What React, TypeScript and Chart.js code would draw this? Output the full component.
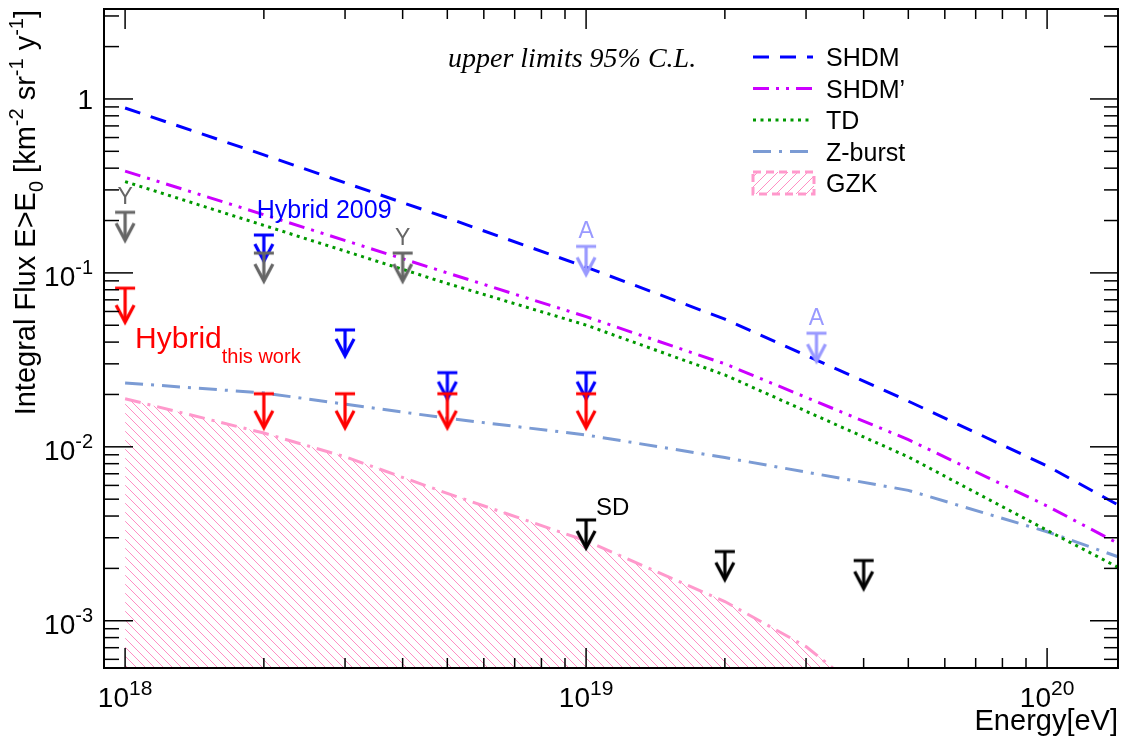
import React, { useEffect, useRef } from "react";
import { Chart, registerables } from "chart.js";

Chart.register(...registerables);

// ---------------- data ----------------
const modelEnergies = [1e18, 2e18, 5e18, 1e19, 2e19, 5e19, 1e20, 1.42e20];
const shdmFlux = [0.887, 0.477, 0.207, 0.108, 0.0542, 0.0183, 0.00776, 0.00466];
const shdmPrimeFlux = [0.385, 0.216, 0.1, 0.056, 0.03, 0.011, 0.00457, 0.0028];
const tdFlux = [0.335, 0.1875, 0.0869, 0.0501, 0.0259, 0.00875, 0.00331, 0.00204];
const zburstFlux = [0.0233, 0.0204, 0.0146, 0.0117, 0.00867, 0.00562, 0.00325, 0.00234];

const gzkEnergies = [1e18, 2e18, 3e18, 5e18, 1e19, 2e19, 3e19, 5e19];
const gzkFlux = [0.0189, 0.012, 0.00877, 0.0054, 0.00288, 0.00129, 0.00071, 0.00024];

// upper limits
const yakutskE = [1e18, 2e18, 4e18];
const yakutskLim = [0.223, 0.13, 0.13];
const yakutskLabels = ["Y", "", "Y"];
const hybrid2009E = [2e18, 3e18, 5e18, 1e19];
const hybrid2009Lim = [0.165, 0.047, 0.0267, 0.0267];
const hybridE = [1e18, 2e18, 3e18, 5e18, 1e19];
const hybridLim = [0.0817, 0.0202, 0.0202, 0.0202, 0.0202];
const agasaE = [1e19, 3.16e19];
const agasaLim = [0.142, 0.045];
const agasaLabels = ["A", "A"];
const sdE = [1e19, 2e19, 4e19];
const sdLim = [0.0038, 0.0025, 0.00222];
const sdLabels = ["SD", "", ""];

const legendLabels = ["SHDM", "SHDM\u2019", "TD", "Z-burst", "GZK"];
const xTickExponents = [18, 19, 20];
const yTickExponents = [-3, -2, -1, 0];

const X_MIN = 9e17;
const X_MAX = 1.425e20;
const Y_MIN = 5.35e-4;
const Y_MAX = 3.29;

const SANS = '"Liberation Sans", Arial, sans-serif';
const SERIF = '"Liberation Serif", "Times New Roman", serif';

const pts = (xs: number[], ys: number[]) => xs.map((x, i) => ({ x, y: ys[i] }));

function makeArrow(color: string, len: number) {
  const w = 24;
  const h = 2 * (len + 4);
  const c = document.createElement("canvas");
  c.width = w;
  c.height = h;
  const g = c.getContext("2d")!;
  const cx = w / 2;
  const cy = h / 2;
  g.strokeStyle = color;
  g.lineWidth = 3.2;
  g.beginPath();
  g.moveTo(cx - 10, cy);
  g.lineTo(cx + 10, cy);
  g.moveTo(cx, cy);
  g.lineTo(cx, cy + len - 1);
  g.stroke();
  g.beginPath();
  g.moveTo(cx - 9, cy + len - 17);
  g.lineTo(cx, cy + len);
  g.lineTo(cx + 9, cy + len - 17);
  g.stroke();
  return c;
}

function makeHatch(color: string, s: number, back: boolean) {
  const c = document.createElement("canvas");
  c.width = s;
  c.height = s;
  const g = c.getContext("2d")!;
  g.strokeStyle = color;
  g.lineWidth = 1;
  g.beginPath();
  for (const k of [-s, 0, s]) {
    if (back) {
      g.moveTo(k, 0);
      g.lineTo(k + s, s);
    } else {
      g.moveTo(k, s);
      g.lineTo(k + s, 0);
    }
  }
  g.stroke();
  return g.createPattern(c, "repeat")!;
}

const rootStylePlugin = {
  id: "rootStyle",
  afterDatasetsDraw(chart: any) {
    const { ctx, chartArea: a, scales } = chart;
    const xs = scales.x;
    const ys = scales.y;
    ctx.save();

    // ---- annotations tied to markers ----
    const labelFor = (dsIndex: number, labels: string[], color: string, size: number, mode: string) => {
      const meta = chart.getDatasetMeta(dsIndex);
      meta.data.forEach((el: any, i: number) => {
        const t = labels[i];
        if (!t) return;
        ctx.fillStyle = color;
        ctx.font = `${size}px ${SANS}`;
        ctx.textBaseline = "alphabetic";
        if (mode === "above") {
          ctx.textAlign = "center";
          ctx.fillText(t, el.x, el.y - 8);
        } else {
          ctx.textAlign = "left";
          ctx.fillText(t, el.x + 10, el.y - 5);
        }
      });
    };
    chart.data.datasets.forEach((ds: any, i: number) => {
      if (ds.markerLabels) labelFor(i, ds.markerLabels, ds.labelColor, ds.labelSize, ds.labelMode);
    });

    // ---- free text ----
    ctx.textAlign = "left";
    ctx.textBaseline = "alphabetic";
    ctx.fillStyle = "#0000ff";
    ctx.font = `25px ${SANS}`;
    ctx.fillText("Hybrid 2009", xs.getPixelForValue(1.93e18), ys.getPixelForValue(0.207));

    ctx.fillStyle = "#ff0000";
    ctx.font = `30px ${SANS}`;
    const hx = xs.getPixelForValue(1.051e18);
    const hy = ys.getPixelForValue(0.0371);
    ctx.fillText("Hybrid", hx, hy);
    const hw = ctx.measureText("Hybrid").width;
    ctx.font = `20px ${SANS}`;
    ctx.fillText("this work", hx + hw, hy + 15);

    ctx.fillStyle = "#000";
    ctx.font = `italic 28px ${SERIF}`;
    ctx.fillText("upper limits 95% C.L.", a.left + 344, a.top + 58);

    // ---- frame ----
    ctx.strokeStyle = "#000";
    ctx.lineWidth = 2;
    ctx.strokeRect(a.left, a.top, a.right - a.left, a.bottom - a.top);

    // ---- ticks ----
    ctx.lineWidth = 1.5;
    const seg = (x1: number, y1: number, x2: number, y2: number) => {
      ctx.beginPath();
      ctx.moveTo(x1, y1);
      ctx.lineTo(x2, y2);
      ctx.stroke();
    };
    for (let e = 17; e <= 20; e++) {
      for (let m = 1; m <= 9; m++) {
        const v = m * Math.pow(10, e);
        if (v < xs.min * 1.001 || v > xs.max) continue;
        const px = xs.getPixelForValue(v);
        const len = m === 1 ? 20 : 10;
        seg(px, a.bottom, px, a.bottom - len);
        seg(px, a.top, px, a.top + len);
      }
    }
    for (let e = -4; e <= 0; e++) {
      for (let m = 1; m <= 9; m++) {
        const v = m * Math.pow(10, e);
        if (v < ys.min || v > ys.max) continue;
        const py = ys.getPixelForValue(v);
        seg(a.left, py, a.left + (m === 1 ? 29 : 15), py);
        seg(a.right, py, a.right - (m === 1 ? 28 : 14), py);
      }
    }

    // ---- tick labels ----
    ctx.fillStyle = "#000";
    ctx.textAlign = "left";
    for (const e of xTickExponents) {
      const px = xs.getPixelForValue(Math.pow(10, e));
      ctx.font = `28px ${SANS}`;
      const w1 = ctx.measureText("10").width;
      ctx.font = `21px ${SANS}`;
      const w2 = ctx.measureText(String(e)).width;
      const x0 = px - (w1 + w2) / 2;
      ctx.font = `28px ${SANS}`;
      ctx.fillText("10", x0, a.bottom + 39);
      ctx.font = `21px ${SANS}`;
      ctx.fillText(String(e), x0 + w1, a.bottom + 27);
    }
    for (const e of yTickExponents) {
      const py = ys.getPixelForValue(Math.pow(10, e));
      const right = a.left - 11;
      if (e === 0) {
        ctx.font = `28px ${SANS}`;
        ctx.textAlign = "right";
        ctx.fillText("1", right, py + 10);
        ctx.textAlign = "left";
        continue;
      }
      const sup = String(e);
      ctx.font = `20px ${SANS}`;
      const w2 = ctx.measureText(sup).width;
      ctx.font = `28px ${SANS}`;
      const w1 = ctx.measureText("10").width;
      const x0 = right - w1 - w2;
      ctx.fillText("10", x0, py + 13);
      ctx.font = `20px ${SANS}`;
      ctx.fillText(sup, x0 + w1, py + 1);
    }

    // ---- axis titles ----
    ctx.font = `29px ${SANS}`;
    ctx.textAlign = "right";
    ctx.fillText("Energy[eV]", a.right, a.bottom + 62);

    const parts = [
      { t: "Integral Flux E>E", s: 29, dy: 0 },
      { t: "0", s: 20, dy: 8 },
      { t: " [km", s: 29, dy: 0 },
      { t: "-2", s: 20, dy: -12 },
      { t: " sr", s: 29, dy: 0 },
      { t: "-1", s: 20, dy: -12 },
      { t: " y", s: 29, dy: 0 },
      { t: "-1", s: 20, dy: -12 },
      { t: "]", s: 29, dy: 0 },
    ];
    let total = 0;
    const widths = parts.map((p) => {
      ctx.font = `${p.s}px ${SANS}`;
      const w = ctx.measureText(p.t).width;
      total += w;
      return w;
    });
    ctx.save();
    ctx.translate(35, a.top + 1);
    ctx.rotate(-Math.PI / 2);
    ctx.textAlign = "left";
    let cx = -total;
    parts.forEach((p, i) => {
      ctx.font = `${p.s}px ${SANS}`;
      ctx.fillText(p.t, cx, p.dy);
      cx += widths[i];
    });
    ctx.restore();

    // ---- legend ----
    const lx1 = a.right - 365;
    const lx2 = a.right - 305;
    const tx = a.right - 292;
    const curveSets = chart.data.datasets.filter((d: any) => d.inLegend);
    curveSets.forEach((ds: any, i: number) => {
      const cy = a.top + 48 + i * 31.5;
      if (ds.hatchLegend) {
        ctx.fillStyle = ds.hatchLegend;
        ctx.fillRect(lx1, cy - 11, lx2 - lx1 + 1, 22);
        ctx.strokeStyle = ds.borderColor;
        ctx.lineWidth = 3;
        ctx.setLineDash([8, 5]);
        ctx.strokeRect(lx1, cy - 11, lx2 - lx1 + 1, 22);
      } else {
        ctx.strokeStyle = ds.borderColor;
        ctx.lineWidth = ds.borderWidth;
        ctx.setLineDash(ds.borderDash || []);
        seg(lx1, cy, lx2, cy);
      }
      ctx.setLineDash([]);
      ctx.fillStyle = "#000";
      ctx.font = `25px ${SANS}`;
      ctx.textAlign = "left";
      ctx.fillText(legendLabels[i], tx, cy + 9);
    });

    ctx.restore();
  },
};

export default function App() {
  const ref = useRef<HTMLCanvasElement>(null);

  useEffect(() => {
    const canvas = ref.current!;
    const gzkHatch = makeHatch("#ff8fc4", 9, true);
    const gzkLegendHatch = makeHatch("#ff8fc4", 10, false);

    const markerSet = (
      label: string,
      xsArr: number[],
      ysArr: number[],
      color: string,
      len: number,
      order: number,
      extra: any = {}
    ) => ({
      label,
      data: pts(xsArr, ysArr),
      showLine: false,
      pointStyle: makeArrow(color, len),
      pointRadius: 6,
      borderColor: color,
      backgroundColor: color,
      order,
      ...extra,
    });

    const curve = (label: string, xsArr: number[], ysArr: number[], color: string, dash: number[], order: number, extra: any = {}) => ({
      label,
      data: pts(xsArr, ysArr),
      borderColor: color,
      backgroundColor: color,
      borderWidth: 3,
      borderDash: dash,
      pointRadius: 0,
      tension: 0,
      fill: false,
      clip: 0,
      inLegend: true,
      order,
      ...extra,
    });

    const chart = new Chart(canvas, {
      type: "line",
      data: {
        datasets: [
          markerSet("Hybrid (this work)", hybridE, hybridLim, "#ff0000", 34, 0),
          markerSet("Yakutsk", yakutskE, yakutskLim, "#666666", 28, 1, {
            markerLabels: yakutskLabels,
            labelColor: "#666666",
            labelSize: 23,
            labelMode: "above",
          }),
          markerSet("Hybrid 2009", hybrid2009E, hybrid2009Lim, "#0000ff", 26, 2),
          markerSet("AGASA", agasaE, agasaLim, "#9999ff", 28, 3, {
            markerLabels: agasaLabels,
            labelColor: "#9999ff",
            labelSize: 23,
            labelMode: "above",
          }),
          markerSet("SD", sdE, sdLim, "#000000", 28, 4, {
            markerLabels: sdLabels,
            labelColor: "#000000",
            labelSize: 24,
            labelMode: "right",
          }),
          curve("SHDM", modelEnergies, shdmFlux, "#0000ff", [16, 11], 10),
          curve("SHDM'", modelEnergies, shdmPrimeFlux, "#cc00ff", [16, 7, 3, 7, 3, 7], 11),
          curve("TD", modelEnergies, tdFlux, "#009900", [3, 4.5], 12),
          curve("Z-burst", modelEnergies, zburstFlux, "#7b9bd4", [18, 8, 3, 8], 13),
          curve("GZK", gzkEnergies, gzkFlux, "#ff99cc", [16, 7, 3, 7], 14, {
            fill: "start",
            backgroundColor: gzkHatch,
            hatchLegend: gzkLegendHatch,
          }),
        ] as any,
      },
      options: {
        animation: false,
        responsive: false,
        devicePixelRatio: 1,
        events: [],
        layout: { padding: { left: 104, top: 9, right: 4, bottom: 72 } },
        scales: {
          x: { type: "logarithmic", min: X_MIN, max: X_MAX, display: false },
          y: { type: "logarithmic", min: Y_MIN, max: Y_MAX, display: false },
        },
        plugins: {
          legend: { display: false },
          tooltip: { enabled: false },
        },
      } as any,
      plugins: [rootStylePlugin],
    });
    return () => chart.destroy();
  }, []);

  return (
    <div style={{ position: "fixed", left: 0, top: 0, width: 1125, height: 740, background: "#fff" }}>
      <canvas ref={ref} width={1125} height={740} style={{ display: "block" }} />
    </div>
  );
}
